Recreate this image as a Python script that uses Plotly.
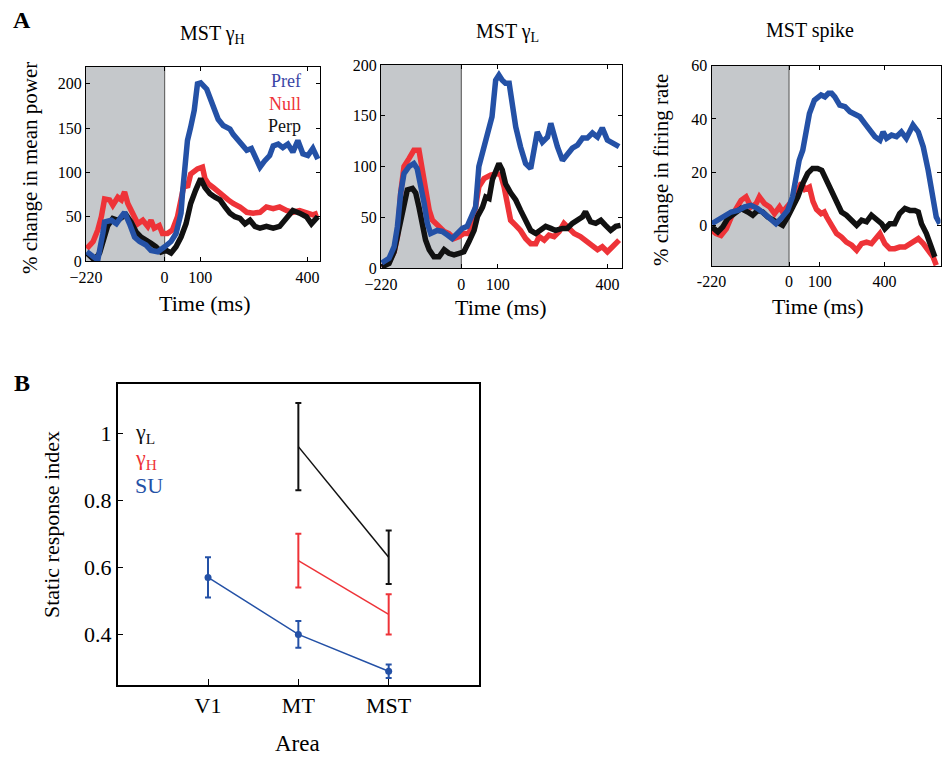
import plotly.graph_objects as go

# ---------------- Panel A data (time in ms, % change) ----------------
# MST gamma-H
gH_pref_t = [-218, -200, -187, -173, -168, -149, -135, -121, -112, -98, -84, -70, -52, -38, -19, 0, 18, 32, 46, 50, 55, 64, 73, 83, 92, 101, 118, 127, 141, 150, 164, 183, 192, 211, 230, 243, 253, 267, 280, 294, 304, 318, 331, 345, 359, 373, 387, 401, 415, 429]
gH_pref_v = [10.5, 5, 1, 31, 44, 46, 42, 50, 55, 42, 27, 22, 18, 12, 10.5, 16, 22, 31, 54, 76, 98, 136, 151, 170, 200, 201, 194, 185, 170, 160, 153, 149, 143, 134, 125, 127, 117, 106, 113, 119, 130, 132, 128, 132, 123, 136, 121, 119, 127, 115]
gH_null_t = [-218, -200, -187, -177, -168, -154, -145, -131, -121, -112, -103, -89, -75, -61, -47, -38, -29, -15, -6, 8, 22, 36, 46, 55, 64, 73, 92, 106, 113, 123, 136, 150, 164, 178, 192, 211, 230, 248, 267, 285, 304, 322, 341, 359, 378, 397, 415, 429]
gH_null_v = [14, 22, 35, 50, 70, 69, 63, 72, 69, 78, 65, 54, 42, 46, 39, 46, 37, 40, 31, 31, 35, 50, 69, 87, 83, 98, 104, 106, 93, 87, 83, 78, 72, 69, 65, 61, 55, 54, 55, 61, 59, 61, 57, 55, 57, 54, 52, 54]
gH_perp_t = [-218, -196, -182, -168, -159, -145, -131, -117, -108, -94, -80, -66, -52, -38, -24, -10, 4, 18, 32, 46, 60, 73, 87, 101, 113, 127, 141, 155, 169, 183, 197, 211, 225, 239, 253, 267, 285, 304, 322, 341, 359, 378, 397, 411, 429]
gH_perp_v = [9, 1, 9, 27, 40, 48, 46, 50, 52, 44, 33, 27, 24, 20, 16, 10, 12, 9, 16, 27, 42, 65, 80, 93, 83, 76, 72, 69, 61, 54, 50, 48, 42, 46, 39, 37, 39, 37, 39, 48, 57, 54, 50, 42, 50]

# MST gamma-L
gL_pref_t = [-218, -198, -184, -175, -166, -157, -143, -130, -121, -111, -102, -93, -84, -66, -52, -38, -25, -11, 3, 16, 30, 39, 48, 58, 71, 84, 94, 103, 112, 121, 131, 140, 149, 162, 176, 190, 199, 208, 222, 236, 245, 254, 263, 277, 290, 304, 318, 332, 345, 359, 373, 386, 400, 414, 432]
gL_pref_v = [5, 9.5, 21, 41, 74, 93, 100, 103, 98, 83, 64, 44, 34, 37, 36, 32.5, 29, 34, 39, 41, 54, 60, 100, 113, 133, 149, 185, 190, 185, 182, 182, 162, 139, 119.5, 103, 98, 119.5, 134, 124, 129, 142.5, 129, 119.5, 106, 111, 118, 121, 128, 128, 133, 129, 138, 126, 123, 119.5]
gL_null_t = [-218, -198, -184, -175, -166, -157, -143, -130, -116, -107, -98, -88, -79, -70, -61, -47, -34, -20, -6, 7, 21, 30, 39, 48, 62, 80, 99, 108, 117, 126, 135, 149, 162, 176, 190, 204, 213, 227, 240, 254, 268, 281, 295, 309, 326, 345, 359, 373, 386, 400, 414, 432]
gL_null_v = [1, 6, 16, 31, 74, 100, 108, 116, 116, 96.5, 74, 57, 47, 44, 41, 36, 34, 29, 31, 34, 34, 44, 60, 80, 88, 91.5, 93, 91.5, 80, 60, 47, 42, 37, 29, 24, 24, 31, 27.5, 32.5, 31, 36, 44, 39, 34, 31, 26, 22.5, 18, 21, 16, 21, 27.5]
gL_perp_t = [-218, -198, -184, -171, -157, -148, -134, -125, -116, -107, -98, -88, -75, -61, -47, -34, -20, -6, 7, 21, 35, 44, 58, 67, 76, 85, 99, 103, 112, 121, 135, 149, 162, 176, 190, 204, 217, 231, 245, 258, 277, 290, 304, 318, 332, 340, 354, 368, 382, 395, 409, 423, 436]
gL_perp_v = [1, 4.5, 16, 37, 60, 77, 78.5, 74, 60, 44, 27.5, 18, 11, 11, 18, 14.5, 13, 14.5, 16, 26, 37, 50.5, 60, 70, 68.5, 87, 100, 103, 96.5, 83, 74, 67, 57, 47, 37, 34, 37, 41, 39, 37, 39, 39, 44, 47, 50.5, 55.5, 45.5, 44, 47, 42, 37, 41, 42]

# MST spike
sp_pref_t = [-219, -202, -183, -164, -145, -126, -108, -89, -70, -51, -37, -23, -4, 10, 20, 29, 39, 48, 58, 72, 91, 102, 112, 121, 130, 144, 159, 173, 187, 201, 215, 229, 244, 258, 267, 277, 291, 305, 319, 333, 343, 352, 367, 381, 395, 409, 418, 428]
sp_pref_v = [0.6, 1.9, 3.1, 5, 5.6, 6.9, 7.5, 6.3, 4.4, 1.9, 0.6, 2.5, 5.6, 10.7, 18.2, 24.5, 28.2, 34.5, 42, 47, 49, 48.3, 49.6, 49.6, 48.3, 45.2, 44.6, 42.7, 42, 40.8, 38.3, 35.8, 33.3, 32, 35.1, 32.7, 33.9, 33.3, 35.1, 32.7, 35.8, 37.7, 35.1, 29.5, 20.7, 10.7, 3.1, 0.6]
sp_null_t = [-219, -207, -193, -178, -164, -150, -136, -122, -108, -93, -84, -70, -55, -41, -27, -18, -4, 10, 25, 35, 45, 58, 68, 78, 91, 100, 107, 121, 135, 149, 163, 178, 192, 206, 220, 234, 248, 258, 272, 286, 300, 314, 329, 343, 357, 367, 381, 395, 409, 418]
sp_null_v = [-1.9, -3.1, -3.8, -1.3, 3.1, 6.3, 9.4, 10.7, 6.9, 8.2, 10.7, 8.2, 6.9, 4.4, 6.9, 5, 6.9, 9.4, 13, 16, 13.5, 14.4, 9, 6, 4.4, 5, 3.1, 0, -3.1, -4.4, -6.3, -7.5, -9.4, -6.9, -6.3, -6.9, -5, -3.1, -6.9, -8.8, -8.8, -8.2, -8.2, -6.9, -5.6, -5, -6.9, -9.4, -11.9, -15]
sp_perp_t = [-219, -202, -188, -174, -155, -136, -117, -103, -89, -75, -60, -46, -32, -18, -4, 10, 25, 39, 53, 67, 81, 93, 107, 121, 135, 149, 163, 178, 192, 206, 220, 234, 248, 263, 272, 286, 300, 314, 329, 343, 357, 367, 376, 390, 404, 414]
sp_perp_v = [-0.6, -2.5, -0.6, 2.5, 4.4, 6.3, 5, 3.8, 5.6, 5, 3.1, 1.9, 0.6, 0, 3.1, 6.9, 10.7, 15.7, 19.5, 21.4, 21.4, 20.7, 16.9, 13.2, 9.4, 5, 3.8, 1.9, 0, 1.9, 1.3, 3.8, 2.5, 0.6, -1.3, 0.6, 0.6, 4.4, 6.3, 5.6, 5.6, 5, 0.6, -3.1, -8.2, -11.9]

# tick labels
gamma_x_ticks = [-220, 0, 100, 400]
gH_y_ticks = [0, 50, 100, 150, 200]
gL_y_ticks = [0, 50, 100, 150, 200]
sp_y_ticks = [0, 20, 40, 60]
sp_x_tickvals = [-220, 0, 87, 271]
sp_x_ticktext = ["-220", "0", "100", "400"]

# ---------------- Panel B data ----------------
areas = ["V1", "MT", "MST"]
gL_index = [None, 0.96, 0.63]
gL_err = [None, 0.13, 0.08]
gH_index = [None, 0.62, 0.46]
gH_err = [None, 0.08, 0.06]
su_index = [0.57, 0.40, 0.29]
su_err = [0.06, 0.04, 0.02]
b_y_tickvals = [0.4, 0.6, 0.8, 1.0]
b_y_ticktext = ["0.4", "0.6", "0.8", "1"]

BLUE = "#2451A6"
RED = "#EE3338"
BLACK = "#111111"
GRAY = "#C5C8CB"
FONT = "Liberation Serif"

# the page body has an 8 px margin; size the figure to fit the window
OFF = 8
W, H = 951 - 2 * OFF, 757 - OFF


def fx(p):
    return (p - OFF) / W


def fy(p):
    return 1 - (p - OFF) / H


fig = go.Figure()

panels = [
    ("x", "y", [(gH_pref_t, gH_pref_v, BLUE), (gH_null_t, gH_null_v, RED), (gH_perp_t, gH_perp_v, BLACK)]),
    ("x2", "y2", [(gL_pref_t, gL_pref_v, BLUE), (gL_null_t, gL_null_v, RED), (gL_perp_t, gL_perp_v, BLACK)]),
    ("x3", "y3", [(sp_pref_t, sp_pref_v, BLUE), (sp_null_t, sp_null_v, RED), (sp_perp_t, sp_perp_v, BLACK)]),
]
for xa, ya, series in panels:
    # draw in order: null, perp, pref (pref on top)
    for t, v, c in [series[1], series[2], series[0]]:
        fig.add_trace(go.Scatter(x=t, y=v, mode="lines", xaxis=xa, yaxis=ya,
                                 line=dict(color=c, width=5.5), hoverinfo="skip"))

# panel B traces
fig.add_trace(go.Scatter(x=areas, y=gL_index, mode="lines", xaxis="x4", yaxis="y4",
                         line=dict(color=BLACK, width=1.5),
                         error_y=dict(type="data", array=gL_err, color=BLACK, thickness=2, width=3)))
fig.add_trace(go.Scatter(x=areas, y=gH_index, mode="lines", xaxis="x4", yaxis="y4",
                         line=dict(color=RED, width=1.5),
                         error_y=dict(type="data", array=gH_err, color=RED, thickness=2, width=3)))
fig.add_trace(go.Scatter(x=areas, y=su_index, mode="lines+markers", xaxis="x4", yaxis="y4",
                         line=dict(color=BLUE, width=1.5), marker=dict(color=BLUE, size=7),
                         error_y=dict(type="data", array=su_err, color=BLUE, thickness=2, width=3)))

tickfont = dict(family=FONT, size=16, color="black")
common = dict(showgrid=False, zeroline=False, showline=True, linecolor="black", linewidth=1,
              mirror="ticks", ticks="inside", ticklen=4, tickcolor="black", tickfont=tickfont,
              automargin=False)
common_b = dict(showgrid=False, zeroline=False, showline=True, linecolor="black", linewidth=1.5,
                mirror=True, ticks="inside", ticklen=6, tickcolor="black",
                tickfont=dict(family=FONT, size=22, color="black"), automargin=False)

fig.update_layout(
    template="none",
    width=W, height=H, margin=dict(l=0, r=0, t=0, b=0, pad=0),
    paper_bgcolor="white", plot_bgcolor="white", showlegend=False,
    xaxis=dict(domain=[fx(86), fx(320)], range=[-220, 435], tickvals=gamma_x_ticks, anchor="y",
               ticklabelstandoff=2, **common),
    yaxis=dict(domain=[fy(261), fy(67)], range=[0, 219], tickvals=gH_y_ticks, anchor="x", **common),
    xaxis2=dict(domain=[fx(381), fx(622)], range=[-220, 440], tickvals=gamma_x_ticks, anchor="y2",
                ticklabelstandoff=2, **common),
    yaxis2=dict(domain=[fy(268), fy(65)], range=[0, 200], tickvals=gL_y_ticks, anchor="x2", **common),
    xaxis3=dict(domain=[fx(711.5), fx(940.5)], range=[-220, 430], tickvals=sp_x_tickvals,
                ticktext=sp_x_ticktext, anchor="y3", ticklabelstandoff=1, **common),
    yaxis3=dict(domain=[fy(266), fy(65.7)], range=[-15.3, 60], tickvals=sp_y_ticks, anchor="x3", **common),
    xaxis4=dict(domain=[fx(117.7), fx(479)], range=[-1, 3], type="category", anchor="y4", **common_b),
    yaxis4=dict(domain=[fy(685), fy(384.3)], range=[0.249, 1.146], tickvals=b_y_tickvals,
                ticktext=b_y_ticktext, anchor="x4", **common_b),
)

# grey pre-stimulus shading + stimulus onset line
for xa, ya in [("x", "y"), ("x2", "y2"), ("x3", "y3")]:
    fig.add_shape(type="rect", xref=xa, yref=ya + " domain", x0=-220, x1=0, y0=0, y1=1,
                  fillcolor=GRAY, line=dict(width=0), layer="below")
    fig.add_shape(type="line", xref=xa, yref=ya + " domain", x0=0, x1=0, y0=0, y1=1,
                  line=dict(color="#6a6a6a", width=1.2), layer="below")


def ann(text, x, y, size, color="black", xanchor="center", yanchor="middle", angle=0, bold=False):
    fig.add_annotation(text=("<b>%s</b>" % text) if bold else text, x=fx(x), y=fy(y),
                       xref="paper", yref="paper", showarrow=False, xanchor=xanchor, yanchor=yanchor,
                       textangle=angle, font=dict(family=FONT, size=size, color=color))


ann("A", 22, 20, 24, bold=True)
ann("B", 22, 383, 24, bold=True)
ann("MST γ<sub>H</sub>", 212, 35, 20)
ann("MST γ<sub>L</sub>", 507, 32, 20)
ann("MST spike", 810, 30, 20)
ann("% change in mean power", 30, 168, 21, angle=-90)
ann("% change in firing rate", 661, 170, 21, angle=-90)
ann("Time (ms)", 204, 303, 22)
ann("Time (ms)", 500, 308, 22)
ann("Time (ms)", 817, 306, 22)
ann("Pref", 303, 81, 18, color="#3A45A5", xanchor="right")
ann("Null", 303, 104, 18, color=RED, xanchor="right")
ann("Perp", 303, 126, 18, color=BLACK, xanchor="right")
ann("γ<sub>L</sub>", 133, 433, 22, color=BLACK, xanchor="left")
ann("γ<sub>H</sub>", 133, 459, 22, color=RED, xanchor="left")
ann("SU", 133, 485, 22, color=BLUE, xanchor="left")
ann("Static response index", 51, 525, 22, angle=-90)
ann("Area", 297, 743, 23)

fig.write_html("out.html")
